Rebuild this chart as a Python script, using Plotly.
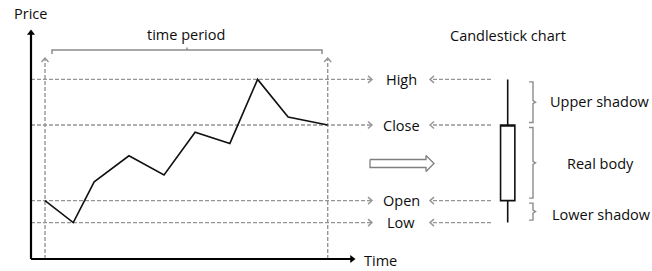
import plotly.graph_objects as go

# ---------------- data ----------------
time = [0, 1.0, 1.74, 2.97, 4.21, 5.31, 6.54, 7.52, 8.6, 10.0]
price = [14.6, 9.1, 19.3, 25.8, 21.0, 31.7, 28.9, 44.9, 35.5, 33.5]
level_names = ["High", "Close", "Open", "Low"]
level_values = [max(price), price[-1], price[0], min(price)]
part_names = ["Upper shadow", "Real body", "Lower shadow"]
titles = {"y": "Price", "x": "Time", "period": "time period", "candle": "Candlestick chart"}

# ---------------- geometry ----------------
W, H = 652, 271
X0, SX = 45.0, 28.27   # pixel of t=0, pixels per time unit
Y0, SY = 259.0, 4.0    # pixel of price 0, pixels per price unit


def tx(p):
    return (p - X0) / SX


def ty(p):
    return (Y0 - p) / SY


def px(t):
    return X0 + t * SX


def py(v):
    return Y0 - v * SY


GRAY = "#959595"
DARK = "#8c8c8c"
FONT = dict(family="Open Sans", size=14.5, color="#0d0d0d")

fig = go.Figure()


def add_line(xs_px, ys_px, color, width, dash="solid"):
    fig.add_trace(go.Scatter(x=[tx(v) for v in xs_px], y=[ty(v) for v in ys_px],
                             mode="lines", line=dict(color=color, width=width, dash=dash),
                             hoverinfo="skip", showlegend=False))


# horizontal dashed level lines (data in price units)
xs, ys = [], []
for v in level_values:
    xs += [tx(31), tx(371), None]
    ys += [v, v, None]
fig.add_trace(go.Scatter(x=xs, y=ys, mode="lines",
                         line=dict(color=GRAY, width=1.4, dash="4px,2px"),
                         hoverinfo="skip", showlegend=False))
# arrows from candle to labels
xs, ys = [], []
for v in level_values:
    xs += [tx(491), tx(431), None]
    ys += [v, v, None]
fig.add_trace(go.Scatter(x=xs, y=ys, mode="lines",
                         line=dict(color=GRAY, width=1.4, dash="4px,2px"),
                         hoverinfo="skip", showlegend=False))
# chevrons
xs, ys = [], []
for v in level_values:
    yp = py(v)
    for tip, d in ((372, -1), (430, 1)):
        xs += [tx(tip + 4 * d), tx(tip), tx(tip + 4 * d), None]
        ys += [ty(yp - 3.5), v, ty(yp + 3.5), None]
for t in (time[0], time[-1]):
    xp = px(t)
    xs += [tx(xp - 3.5), t, tx(xp + 3.5), None]
    ys += [ty(62), ty(58), ty(62), None]
fig.add_trace(go.Scatter(x=xs, y=ys, mode="lines", line=dict(color=GRAY, width=1.4),
                         hoverinfo="skip", showlegend=False))
# vertical dashed period lines
xs, ys = [], []
for t in (time[0], time[-1]):
    xs += [t, t, None]
    ys += [ty(259), ty(58.5), None]
fig.add_trace(go.Scatter(x=xs, y=ys, mode="lines",
                         line=dict(color=GRAY, width=1.4, dash="4px,2px"),
                         hoverinfo="skip", showlegend=False))

# price line
fig.add_trace(go.Scatter(x=time, y=price, mode="lines",
                         line=dict(color="#111111", width=1.6),
                         hoverinfo="skip", showlegend=False))

# axes
add_line([31, 31], [259, 34], "#000000", 2.2)
add_line([31, 351], [259, 259], "#000000", 2.2)
fig.add_trace(go.Scatter(x=[tx(31), tx(352)], y=[ty(33), ty(259)], mode="markers",
                         marker=dict(symbol=["triangle-up", "triangle-right"], size=7,
                                     color="#000000"),
                         hoverinfo="skip", showlegend=False))

# time period bracket
mid = (52 + 322) / 2
add_line([52, 52, mid, mid, mid, 322, 322], [54, 50, 50, 47.5, 50, 50, 54], DARK, 1.5)

# braces next to candle
pairs = [(level_values[0], level_values[1]), (level_values[1], level_values[2]),
         (level_values[2], level_values[3])]
for a, b in pairs:
    y0, y1 = py(a) + 2.5, py(b) - 2.5
    ym = (y0 + y1) / 2
    add_line([529, 533, 533, 535.5, 533, 533, 529], [y0, y0, ym - 1.5, ym, ym + 1.5, y1, y1],
             DARK, 1.4)

# hollow arrow
hx = [370, 426, 426, 434, 426, 426, 370, 370]
hy = [159.5, 159.5, 155.5, 163.5, 171.5, 167.5, 167.5, 159.5]
fig.add_trace(go.Scatter(x=[tx(v) for v in hx], y=[ty(v) for v in hy], mode="lines",
                         fill="toself", fillcolor="#ffffff",
                         line=dict(color="#7f7f7f", width=1.3),
                         hoverinfo="skip", showlegend=False))

# candlestick
fig.add_trace(go.Candlestick(x=[0], open=[level_values[2]], high=[level_values[0]],
                             low=[level_values[3]], close=[level_values[1]],
                             xaxis="x2", yaxis="y",
                             increasing=dict(line=dict(color="#111111", width=1.6),
                                             fillcolor="#ffffff"),
                             decreasing=dict(line=dict(color="#111111", width=1.6),
                                             fillcolor="#ffffff"),
                             whiskerwidth=0, hoverinfo="skip", showlegend=False))

# text
ann = []


def text(s, xp, yp, anchor="center"):
    ann.append(dict(x=tx(xp), y=ty(yp), xref="x", yref="y", text=s, showarrow=False,
                    xanchor=anchor, yanchor="middle", font=FONT))


text(titles["y"], 30, 13)
text(titles["x"], 380.5, 260)
text(titles["period"], 186, 34)
text(titles["candle"], 507.5, 35)
for name, v in zip(level_names, level_values):
    text(name, 401, py(v))
part_y = [101.5, 163, 214.5]
part_x = [548, 565, 550]
for name, xp, yp in zip(part_names, part_x, part_y):
    text(name, xp, yp, "left")

CW = 14.3  # px per unit on candle axis
CX = 507.7
fig.update_layout(
    width=W, height=H, margin=dict(l=0, r=0, t=0, b=0),
    paper_bgcolor="#ffffff", plot_bgcolor="#ffffff",
    xaxis=dict(range=[tx(0), tx(W)], visible=False, fixedrange=True),
    xaxis2=dict(range=[-CX / CW, (W - CX) / CW], visible=False, overlaying="x",
                rangeslider=dict(visible=False)),
    yaxis=dict(range=[ty(H), ty(0)], visible=False),
    boxgap=0, boxgroupgap=0,
    annotations=ann,
)
fig.update_xaxes(rangeslider_visible=False)
fig.write_html("out.html", config={"displayModeBar": False},
               post_script="document.body.style.margin='0px';document.body.style.overflow='hidden';")
